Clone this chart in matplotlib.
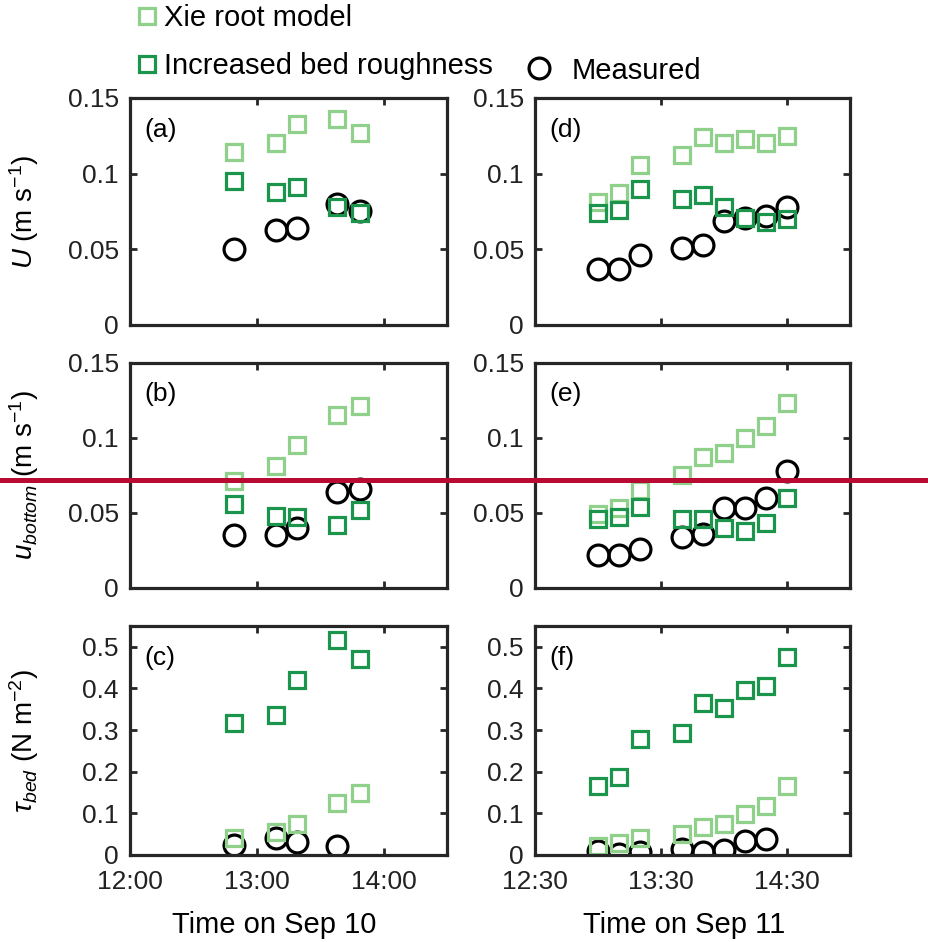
import matplotlib
matplotlib.use("Agg")
import matplotlib.pyplot as plt
from matplotlib.lines import Line2D
import numpy as np

plt.rcParams['font.family'] = ['Liberation Sans', 'DejaVu Sans']
plt.rcParams['mathtext.fontset'] = 'custom'
plt.rcParams['mathtext.rm'] = 'Liberation Sans'
plt.rcParams['mathtext.it'] = 'Liberation Sans:italic'

# observation times
times_sep10 = ['12:49', '13:09', '13:19', '13:38', '13:49']
times_sep11 = ['13:00', '13:10', '13:20', '13:40', '13:50',
               '14:00', '14:10', '14:20', '14:30']

# Sep 10 (a)-(c)
U_xie_10 = [0.114, 0.120, 0.133, 0.136, 0.127]
U_rough_10 = [0.095, 0.088, 0.091, 0.078, 0.074]
U_meas_10 = [0.050, 0.063, 0.064, 0.080, 0.075]

ub_xie_10 = [0.071, 0.081, 0.095, 0.115, 0.121]
ub_rough_10 = [0.056, 0.048, 0.047, 0.042, 0.052]
ub_meas_10 = [0.035, 0.035, 0.040, 0.064, 0.066]

tau_xie_10 = [0.040, 0.054, 0.075, 0.124, 0.150]
tau_rough_10 = [0.316, 0.335, 0.421, 0.517, 0.470]
tau_meas_10 = [0.023, 0.040, 0.031, 0.022, np.nan]

# Sep 11 (d)-(f)
U_xie_11 = [0.081, 0.087, 0.106, 0.112, 0.124, 0.120, 0.123, 0.120, 0.125]
U_rough_11 = [0.074, 0.076, 0.090, 0.083, 0.086, 0.078, 0.071, 0.068, 0.070]
U_meas_11 = [0.037, 0.037, 0.046, 0.051, 0.053, 0.069, 0.071, 0.072, 0.078]

ub_xie_11 = [0.049, 0.053, 0.065, 0.075, 0.087, 0.090, 0.100, 0.108, 0.123]
ub_rough_11 = [0.046, 0.047, 0.054, 0.046, 0.046, 0.040, 0.038, 0.043, 0.060]
ub_meas_11 = [0.022, 0.022, 0.026, 0.034, 0.036, 0.053, 0.053, 0.060, 0.078]

tau_xie_11 = [0.022, 0.028, 0.040, 0.050, 0.066, 0.074, 0.098, 0.117, 0.166]
tau_rough_11 = [0.166, 0.188, 0.278, 0.294, 0.364, 0.354, 0.396, 0.406, 0.476]
tau_meas_11 = [0.010, 0.002, 0.006, 0.015, 0.007, 0.012, 0.033, 0.038, np.nan]


def to_hours(ts):
    return np.array([int(t[:2]) + int(t[3:]) / 60 for t in ts])


light = '#8fd08a'
dark = '#1b944c'
frame = '#262626'
FS = 19

fig = plt.figure(figsize=(9.29, 9.42), dpi=100)

col_left = [0.1399, 0.5759]
col_width = [0.3412, 0.3391]
row_bottom = [0.6550, 0.3758, 0.0924]
row_height = [0.2410, 0.2389, 0.2431]

panels = [
    [(U_xie_10, U_rough_10, U_meas_10), (ub_xie_10, ub_rough_10, ub_meas_10),
     (tau_xie_10, tau_rough_10, tau_meas_10)],
    [(U_xie_11, U_rough_11, U_meas_11), (ub_xie_11, ub_rough_11, ub_meas_11),
     (tau_xie_11, tau_rough_11, tau_meas_11)],
]
letters = [['(a)', '(b)', '(c)'], ['(d)', '(e)', '(f)']]
ylabels = [r'$\mathit{U}$ (m s$^{-1}$)',
           r'$\mathit{u_{bottom}}$ (m s$^{-1}$)',
           r'$\mathit{\tau_{bed}}$ (N m$^{-2}$)']
xinfo = [(times_sep10, 12.0, 14.5, [12, 13, 14], ['12:00', '13:00', '14:00'],
          'Time on Sep 10', 0.456),
         (times_sep11, 12.5, 15.0, [12.5, 13.5, 14.5], ['12:30', '13:30', '14:30'],
          'Time on Sep 11', 0.473)]

sq = dict(marker='s', ms=11.5, mew=2.3, mfc='none', ls='none')
ci = dict(marker='o', ms=15, mew=2.3, mfc='none', ls='none', mec='black')

for c in range(2):
    times, x0, x1, xt, xtl, xlab, xlab_x = xinfo[c]
    x = to_hours(times)
    for r in range(3):
        ax = fig.add_axes([col_left[c], row_bottom[r], col_width[c], row_height[r]])
        xie, rough, meas = panels[c][r]
        ax.plot(x, meas, **ci)
        ax.plot(x, xie, mec=light, **sq)
        ax.plot(x, rough, mec=dark, **sq)

        ax.set_xlim(x0, x1)
        ax.set_xticks(xt)
        if r == 2:
            ax.set_xticklabels(xtl)
            ax.set_xlabel(xlab, fontsize=21)
            ax.xaxis.set_label_coords(xlab_x, -0.245)
            ax.set_ylim(0, 0.55)
            ax.set_yticks([0, 0.1, 0.2, 0.3, 0.4, 0.5])
            ax.set_yticklabels(['0', '0.1', '0.2', '0.3', '0.4', '0.5'])
        else:
            ax.set_xticklabels([])
            ax.set_ylim(0, 0.15)
            ax.set_yticks([0, 0.05, 0.1, 0.15])
            ax.set_yticklabels(['0', '0.05', '0.1', '0.15'])

        ax.tick_params(direction='in', length=5, width=2, top=True, right=True,
                       labelsize=FS, color=frame, labelcolor='#222222', pad=8)
        ax.tick_params(axis='x', pad=11)
        for sp in ax.spines.values():
            sp.set_linewidth(2.3)
            sp.set_color(frame)
        ax.text(0.045, 0.86, letters[c][r], transform=ax.transAxes,
                fontsize=FS, va='center', ha='left')
        if c == 0:
            ax.set_ylabel(ylabels[r], fontsize=20)
            ax.yaxis.set_label_coords(-0.28, 0.5)

# legend
h_xie = Line2D([], [], mec=light, **sq)
h_rough = Line2D([], [], mec=dark, **sq)
h_meas = Line2D([], [], **ci)
fig.legend([h_xie, h_rough], ['Xie root model', 'Increased bed roughness'],
           loc='upper left', bbox_to_anchor=(0.1455, 0.996), frameon=False,
           fontsize=21, handlelength=0.8, handletextpad=0.2, labelspacing=0.7,
           borderaxespad=0, borderpad=0)
fig.legend([h_meas], ['Measured'], loc='upper left',
           bbox_to_anchor=(0.568, 0.940), frameon=False, fontsize=21,
           handlelength=0.8, handletextpad=0.7, borderaxespad=0, borderpad=0)

# red horizontal marker line across the figure
fig.add_artist(Line2D([0, 1], [0.4904, 0.4904], transform=fig.transFigure,
                      color='#b80a32', lw=3.6))

fig.savefig('out.png', dpi=100)
